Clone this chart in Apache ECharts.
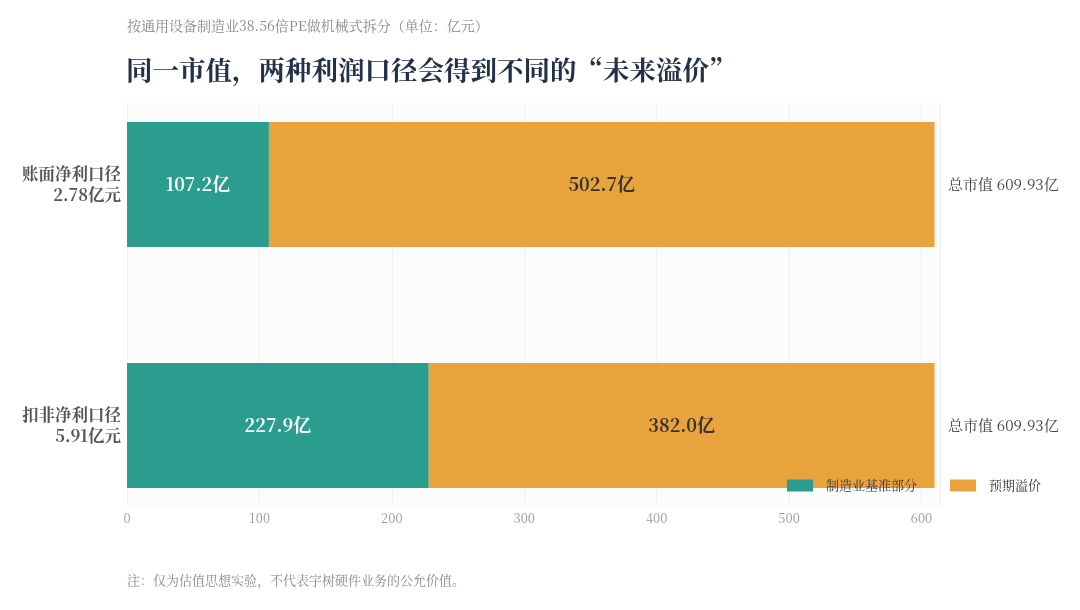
<!DOCTYPE html>
<html>
<head>
<meta charset="utf-8">
<script src="https://cdn.jsdelivr.net/npm/echarts@6/dist/echarts.min.js"></script>
<style>
  html, body { margin: 0; padding: 0; background: #fff; }
  #chart { width: 1080px; height: 610px; }
</style>
</head>
<body>
<div id="chart"></div>
<script>
// 数据
var categories = ['账面净利口径', '扣非净利口径'];
var profits = [2.78, 5.91];          // 亿元
var baseValues = [107.2, 227.9];     // 制造业基准部分
var premiumValues = [502.7, 382.0];  // 预期溢价
var totals = [609.93, 609.93];       // 总市值
var xTicks = [0, 100, 200, 300, 400, 500, 600];

var FONT = '"Noto Serif CJK SC", "Liberation Serif", "Noto Sans CJK SC", serif';

function myChart() {
    var e = echarts.init(document.getElementById('chart'));
    var xMax = 614;
    var option = {
        backgroundColor: '#fff',
        textStyle: { fontFamily: FONT },
        title: [{
            text: '按通用设备制造业38.56倍PE做机械式拆分（单位：亿元）',
            left: 127, top: 19, padding: 0,
            textStyle: { fontSize: 14, fontWeight: 'normal', color: '#8a8a8a', fontFamily: FONT }
        }, {
            text: '同一市值，两种利润口径会得到不同的“未来溢价”',
            left: 126, top: 57, padding: 0,
            textStyle: { fontSize: 26.5, fontWeight: 'bold', color: '#22304a', fontFamily: FONT }
        }, {
            text: '注：仅为估值思想实验，不代表宇树硬件业务的公允价值。',
            left: 127, top: 574, padding: 0,
            textStyle: { fontSize: 13, fontWeight: 'normal', color: '#8a8a8a', fontFamily: FONT }
        }],
        legend: {
            left: 782, top: 474,
            itemWidth: 26, itemHeight: 12, itemGap: 33,
            icon: 'rect',
            textStyle: { fontSize: 13, color: '#333', fontFamily: FONT, padding: [0, 0, 0, 8] },
            data: ['制造业基准部分', '预期溢价']
        },
        grid: [
            // 柱子所在网格（类目中心对齐）
            { left: 127, right: 140, top: 184.5, bottom: 184.5 },
            // 背景 + 刻度网格
            { left: 127, right: 140, top: 103, bottom: 104, show: true, backgroundColor: '#fcfcfc', borderWidth: 0 }
        ],
        xAxis: [{
            type: 'value', gridIndex: 0, min: 0, max: xMax,
            show: false
        }, {
            type: 'value', gridIndex: 1, min: 0, max: xMax, interval: 100,
            axisLine: { show: false },
            axisTick: { show: false },
            splitLine: { show: true, lineStyle: { color: '#f0f0f0', width: 1 } },
            axisLabel: {
                margin: 6, fontSize: 13, color: '#9a9a9a', fontFamily: FONT,
                showMaxLabel: false,
                formatter: function (v) { return xTicks.indexOf(v) >= 0 ? String(v) : ''; }
            }
        }],
        yAxis: [{
            type: 'category', gridIndex: 0, inverse: true, boundaryGap: false,
            data: categories,
            axisLine: { show: false },
            axisTick: { show: false },
            axisLabel: {
                margin: 6, fontSize: 16.5, fontWeight: 'bold', color: '#555', lineHeight: 21,
                fontFamily: FONT, align: 'right',
                formatter: function (v, i) { return v + '\n' + profits[i] + '亿元'; }
            }
        }, {
            type: 'category', gridIndex: 0, inverse: true, boundaryGap: false, position: 'right',
            data: categories,
            axisLine: { show: false },
            axisTick: { show: false },
            axisLabel: {
                margin: 8, fontSize: 15, color: '#444', fontFamily: FONT,
                formatter: function (v, i) { return '总市值 ' + totals[i].toFixed(2) + '亿'; }
            }
        }, {
            type: 'value', gridIndex: 1, show: false
        }],
        series: [{
            name: '制造业基准部分',
            type: 'bar', stack: 'mv', xAxisIndex: 0, yAxisIndex: 0,
            barWidth: 125,
            data: baseValues,
            itemStyle: { color: '#2a9d8f' },
            label: {
                show: true, position: 'inside', fontSize: 18, fontWeight: 'bold', color: '#fff',
                fontFamily: FONT,
                formatter: function (p) { return p.value.toFixed(1) + '亿'; }
            }
        }, {
            name: '预期溢价',
            type: 'bar', stack: 'mv', xAxisIndex: 0, yAxisIndex: 0,
            barWidth: 125,
            data: premiumValues,
            itemStyle: { color: '#e8a33c' },
            label: {
                show: true, position: 'inside', fontSize: 18, fontWeight: 'bold', color: '#333',
                fontFamily: FONT,
                formatter: function (p) { return p.value.toFixed(1) + '亿'; }
            }
        }]
    };
    e.setOption(option);
    window.addEventListener('resize', function () {
        e.resize();
    });
}
myChart();
</script>
</body>
</html>
